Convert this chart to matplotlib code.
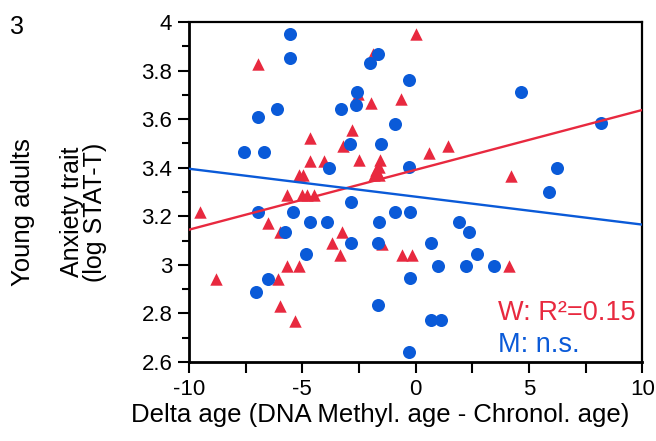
import matplotlib
matplotlib.use("Agg")
import matplotlib.pyplot as plt
from matplotlib.ticker import MultipleLocator

plt.rcParams["font.family"] = ["Liberation Sans", "DejaVu Sans"]

# men (blue circles)
m_x = [-5.54, -5.54, -1.66, -2.0, -0.29, -2.58, -2.64, -3.3, -6.1, -6.97,
       -0.89, -7.58, -6.68, -2.89, -1.51, -3.83, -0.27, 4.66, 8.16, 6.26,
       5.87, -6.95, -5.40, -4.66, -3.91, -5.78, -4.83, -6.5, -7.03, -2.85,
       -0.89, -0.26, -1.6, -2.83, -1.67, 0.68, 1.93, 2.35, 2.72, 0.98,
       2.22, 3.44, -0.24, -1.67, 0.68, 1.11, -0.29]
m_y = [3.95, 3.85, 3.87, 3.83, 3.76, 3.71, 3.66, 3.64, 3.64, 3.61,
       3.58, 3.466, 3.466, 3.496, 3.496, 3.40, 3.405, 3.714, 3.584, 3.40,
       3.30, 3.218, 3.219, 3.178, 3.178, 3.136, 3.045, 2.944, 2.89, 3.259,
       3.218, 3.218, 3.177, 3.09, 3.09, 3.09, 3.178, 3.136, 3.046, 2.996,
       2.996, 2.994, 2.945, 2.834, 2.774, 2.774, 2.64]

# women (red triangles)
w_x = [-6.97, -4.64, -4.64, -4.02, -3.21, -5.14, -4.97, -5.69, -4.99, -4.81,
       -4.48, -9.5, -6.5, -6.0, -8.82, -5.66, -5.14, -6.07, -5.98, -5.33,
       -3.67, -3.35, -3.26, -1.47, -0.58, -0.14, 4.13, 0.04, -1.9, -2.55,
       -1.98, -0.65, -2.82, -2.48, -1.57, 0.61, 1.43, 4.2, -1.85, -1.75,
       -1.6, -1.6]
w_y = [3.826, 3.522, 3.429, 3.429, 3.49, 3.369, 3.369, 3.289, 3.289, 3.289,
       3.289, 3.218, 3.173, 3.134, 2.94, 2.994, 2.994, 2.94, 2.83, 2.768,
       3.09, 3.042, 3.136, 3.086, 3.041, 3.041, 2.994, 3.95, 3.867, 3.704,
       3.666, 3.685, 3.556, 3.43, 3.43, 3.46, 3.49, 3.368, 3.37, 3.39,
       3.405, 3.37]

# fitted lines
fit_x = [-10, 10]
w_fit = [3.145, 3.638]
m_fit = [3.396, 3.166]

xticks = [-10, -5, 0, 5, 10]
yticks = [2.6, 2.8, 3.0, 3.2, 3.4, 3.6, 3.8, 4.0]
ytick_labels = ["2.6", "2.8", "3", "3.2", "3.4", "3.6", "3.8", "4"]

red = "#E8293F"
blue = "#0A5AD8"

fig = plt.figure(figsize=(6.56, 4.41), dpi=100)
ax = fig.add_axes([0.288, 0.179, 0.691, 0.771])

ax.scatter(w_x, w_y, marker="^", s=80, color=red, linewidths=0, zorder=3)
ax.scatter(m_x, m_y, marker="o", s=88, color=blue, linewidths=0, zorder=4)
ax.plot(fit_x, w_fit, color=red, lw=1.7, zorder=5)
ax.plot(fit_x, m_fit, color=blue, lw=1.7, zorder=5)

ax.set_xlim(-10, 10)
ax.set_ylim(2.6, 4.0)
ax.set_xticks(xticks)
ax.set_xticklabels([str(t) for t in xticks])
ax.set_yticks(yticks)
ax.set_yticklabels(ytick_labels)
ax.xaxis.set_minor_locator(MultipleLocator(2.5))
ax.yaxis.set_minor_locator(MultipleLocator(0.1))
ax.tick_params(axis="both", which="major", direction="out", length=8, width=1.5,
               labelsize=16, pad=4)
ax.tick_params(axis="x", which="minor", direction="out", length=8, width=1.5)
ax.tick_params(axis="y", which="minor", direction="out", length=5, width=1.5)
for side in ["left", "bottom"]:
    ax.spines[side].set_linewidth(2)
for side in ["top", "right"]:
    ax.spines[side].set_linewidth(1.6)

fig.text(0.579, 0.058, "Delta age (DNA Methyl. age - Chronol. age)", ha="center",
         va="center", fontsize=18.5)
fig.text(0.127, 0.519, "Anxiety trait\n(log STAT-T)", rotation=90, ha="center",
         va="center", fontsize=18, linespacing=0.95)
fig.text(0.035, 0.519, "Young adults", rotation=90, ha="center", va="center",
         fontsize=18.5)
fig.text(0.015, 0.965, "3", ha="left", va="top", fontsize=18)

ax.text(0.682, 0.144, "W: R²=0.15", transform=ax.transAxes, color=red,
        fontsize=19.5, ha="left", va="center")
ax.text(0.682, 0.05, "M: n.s.", transform=ax.transAxes, color=blue,
        fontsize=19.5, ha="left", va="center")

fig.savefig("out.png", dpi=100)
